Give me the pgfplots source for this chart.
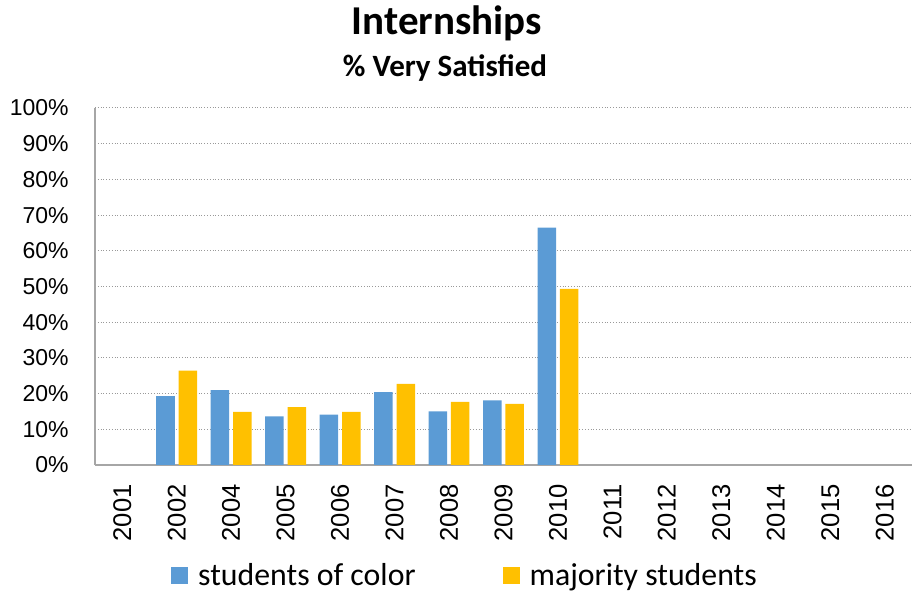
\documentclass[border=0pt]{standalone}
\usepackage{fontspec}
\setmainfont{Carlito}
\newfontfamily\tickfont{Liberation Sans}
\usepackage{pgfplots}
\pgfplotsset{compat=1.18}

\definecolor{soc}{HTML}{5B9BD5}
\definecolor{maj}{HTML}{FFC000}
\definecolor{axgray}{HTML}{A6A6A6}

\begin{document}
\begin{tikzpicture}
\useasboundingbox (-47.5pt,-64pt) rectangle (410pt,232.5pt);
\begin{axis}[
  at={(0pt,0pt)}, anchor=south west,
  scale only axis,
  width=408.5pt, height=178.5pt,
  ybar, bar width=9.25pt,
  xmin=-0.5, xmax=14.5,
  ymin=0, ymax=100,
  xtick={0,...,14},
  xticklabels={2001,2002,2004,2005,2006,2007,2008,2009,2010,2011,2012,2013,2014,2015,2016},
  ytick={0,10,...,100},
  yticklabels={0\%,10\%,20\%,30\%,40\%,50\%,60\%,70\%,80\%,90\%,100\%},
  axis x line*=bottom, axis y line*=left,
  axis line style={-, axgray, line width=0.8pt},
  major tick length=0pt,
  ymajorgrids,
  major grid style={densely dotted, gray!80, line width=0.5pt},
  xticklabel style={rotate=90, anchor=east, inner sep=0pt, font=\tickfont\fontsize{12.8}{15}\selectfont},
  xticklabel shift=9.5pt,
  yticklabel style={anchor=east, inner sep=0pt, font=\tickfont\fontsize{11.5}{13}\selectfont},
  yticklabel shift=13pt,
  legend columns=2,
  legend style={at={(185.5pt,-55.25pt)}, anchor=center, draw=none, fill=none,
    font=\fontsize{15.9}{18}\selectfont,
    /tikz/every even column/.append style={column sep=41.5pt}},
  legend image code/.code={\fill[#1] (0pt,-4.25pt) rectangle (8.5pt,4.25pt); \path (11.5pt,0pt);},
]
\addplot[fill=soc, draw=none, bar shift=-5.6pt] coordinates {
  (1,19.3) (2,21.0) (3,13.6) (4,14.1) (5,20.4) (6,15.0) (7,18.1) (8,66.5)
};
\addplot[fill=maj, draw=none, bar shift=5.6pt] coordinates {
  (1,26.4) (2,14.9) (3,16.2) (4,14.9) (5,22.7) (6,17.7) (7,17.1) (8,49.3)
};
\legend{students of color, majority students}
\end{axis}
\node[anchor=base, font=\bfseries\fontsize{20.5}{24}\selectfont] at (176pt,215pt) {Internships};
\node[anchor=base, font=\bfseries\fontsize{15.5}{18}\selectfont] at (175pt,194.2pt) {\% Very Satisfied};
\end{tikzpicture}
\end{document}
